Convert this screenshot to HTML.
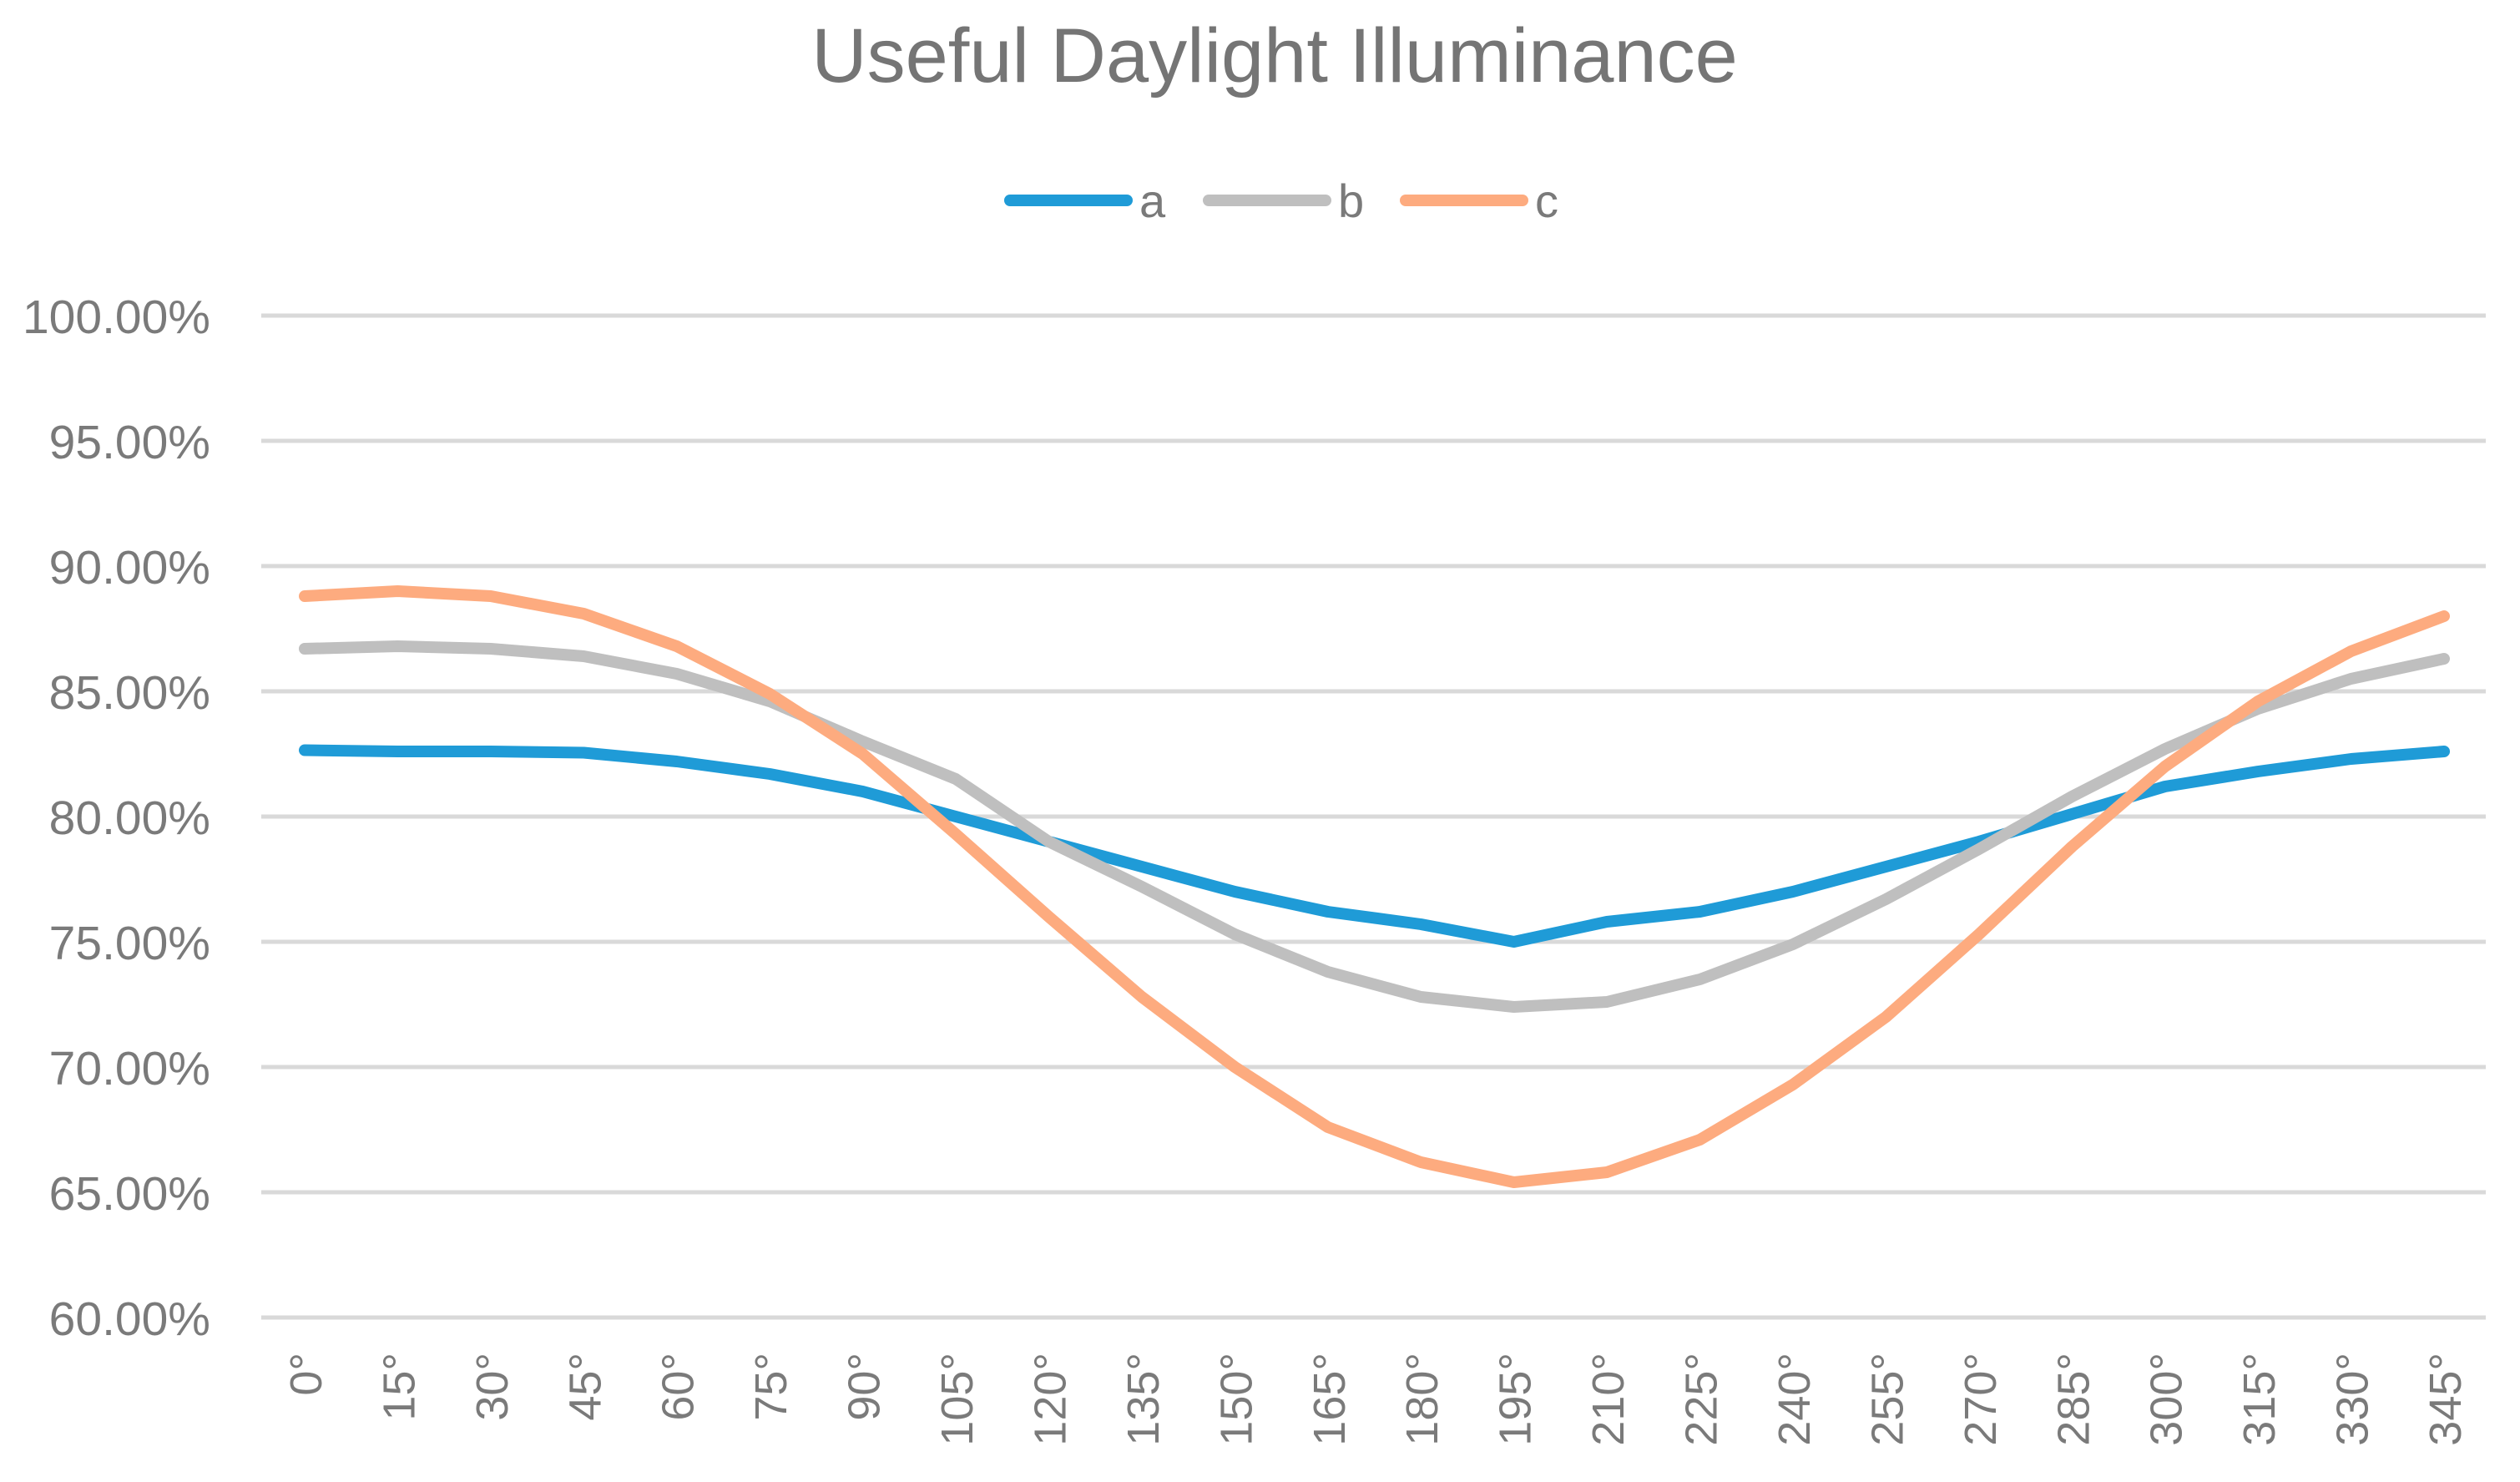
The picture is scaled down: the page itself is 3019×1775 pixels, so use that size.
<!DOCTYPE html>
<html><head><meta charset="utf-8"><style>
html,body{margin:0;padding:0;background:#fff;}
svg{display:block;font-family:"Liberation Sans",sans-serif;}
</style></head><body>
<svg id="chart" width="3019" height="1775" viewBox="0 0 3019 1775">
<text x="1527" y="98" text-anchor="middle" font-size="92" fill="#757575">Useful Daylight Illuminance</text>
<g id="grid"></g><g id="yticks"></g><g id="xticks"></g><g id="series"></g><g id="legend"></g>
</svg>
<script>
const categories=["0°","15°","30°","45°","60°","75°","90°","105°","120°","135°","150°","165°","180°","195°","210°","225°","240°","255°","270°","285°","300°","315°","330°","345°"];
const seriesA=[82.65,82.6,82.6,82.55,82.2,81.7,81.0,80.0,79.0,78.0,77.0,76.2,75.7,75.0,75.8,76.2,77.0,78.0,79.0,80.1,81.2,81.8,82.3,82.6];
const seriesB=[86.7,86.8,86.7,86.4,85.7,84.6,83.0,81.5,79.0,77.2,75.3,73.8,72.8,72.4,72.6,73.5,74.9,76.7,78.7,80.8,82.7,84.3,85.5,86.3];
const seriesC=[88.8,89.0,88.8,88.1,86.8,84.9,82.5,79.3,76.0,72.8,70.0,67.6,66.2,65.4,65.8,67.1,69.3,72.0,75.3,78.8,82.0,84.6,86.6,88.0];
const yTicks=[60,65,70,75,80,85,90,95,100];
const seriesNames=["a","b","c"];
const colors=["#1f9bd7","#bfbfbf","#fdab7f"];
const NS="http://www.w3.org/2000/svg";
const x0=365,x1=2928,yTop=378,yBot=1578,yMin=60,yMax=100;
function xs(i){return x0+i*(x1-x0)/(categories.length-1);}
function ys(v){return yBot-(v-yMin)/(yMax-yMin)*(yBot-yTop);}
function mk(t,a,p){const e=document.createElementNS(NS,t);for(const k in a)e.setAttribute(k,a[k]);p.appendChild(e);return e;}
const grid=document.getElementById('grid'),yt=document.getElementById('yticks'),xt=document.getElementById('xticks'),sg=document.getElementById('series'),lg=document.getElementById('legend');
yTicks.forEach(v=>{
 const l=mk('line',{x1:313,x2:2978,y1:ys(v),y2:ys(v),stroke:'#d9d9d9','stroke-width':5},grid);
 
 
 const t=mk('text',{x:252,y:ys(v)+21,'text-anchor':'end','font-size':57,fill:'#7a7a7a'},yt);
 t.textContent=v.toFixed(2)+'%';
 
 
});
categories.forEach((c,i)=>{
 const t=mk('text',{x:0,y:0,'text-anchor':'end','font-size':54,fill:'#7a7a7a',transform:'translate('+(xs(i)+20)+',1620) rotate(-90)'},xt);
 t.textContent=c;
 
 
});
[seriesA,seriesB,seriesC].forEach((s,k)=>{
 const p=mk('polyline',{points:s.map((v,i)=>xs(i)+','+ys(v)).join(' '),fill:'none',stroke:colors[k],'stroke-width':14,'stroke-linejoin':'round','stroke-linecap':'round'},sg);
 
 
});
const lx=[1210,1448,1684];
seriesNames.forEach((n,k)=>{
 const l=mk('line',{x1:lx[k],x2:lx[k]+140,y1:240,y2:240,stroke:colors[k],'stroke-width':14,'stroke-linecap':'round'},lg);
 
 
 const t=mk('text',{x:lx[k]+155,y:260,'font-size':56,fill:'#7a7a7a'},lg);
 t.textContent=n;
 
 
});
</script>
</body></html>
